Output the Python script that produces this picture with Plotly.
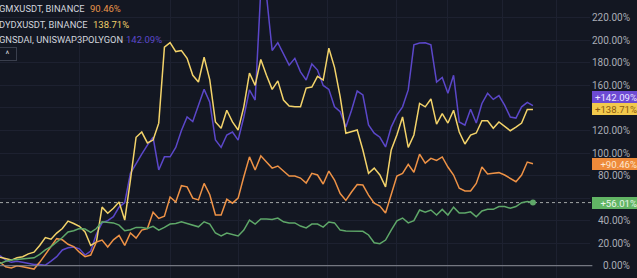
import plotly.graph_objects as go

# ---- data (percent change), one value per bar ----
gns = [9, 5, 3, 4, 3, 2, 1, 1, 0.5, 4, 8, 14, 16, 16.6, 15, 9.5, 13, 28, 38, 40,
       43.5, 52, 56, 82, 91, 99, 107, 114, 85, 96.6, 96.6, 105, 120, 132, 128, 142, 156.5, 145, 111.5, 105,
       116, 118.6, 111.5, 132, 156, 147, 245, 240, 191, 198, 188.6, 178, 184, 172, 164.8, 179, 173.6, 160, 156.5, 141,
       136.6, 123, 138, 155, 151.5, 125, 117.6, 114, 105.4, 123, 133.6, 141, 156, 196, 197.6, 197.8, 196, 163, 167, 153,
       169, 127.6, 124.8, 138.8, 126.6, 144, 153, 147.6, 151, 142.5, 132, 131, 141, 145, 142.09]
dydx = [7.5, 6, 5, 7, 8, 10.5, 12, 18, 25, 23.5, 29, 33, 39.6, 37.5, 35, 30, 18, 21, 52, 46.6,
        51, 56.5, 40.5, 76, 114, 118.6, 109, 111.5, 126.5, 194, 198, 190, 191, 184, 169, 163, 185, 165, 127.6, 122,
        138, 127.6, 120.4, 141, 171, 160, 183, 169, 156.5, 164, 147, 141.7, 141, 141, 157.6, 158.6, 168, 164.8, 193, 176,
        149.8, 117.6, 118.7, 120.4, 102.7, 82, 86.6, 80.5, 70, 102.7, 116, 132, 105, 116, 144, 141, 148, 125.7, 135, 126.6,
        138, 118.7, 108, 116, 117.8, 128.6, 128.6, 122, 127.6, 124, 119.8, 123, 126.6, 138.7, 138.71]
gmx = [3, -1, -2, 0, -1, -2, -3, 3, 10, 18, 24, 23, 19, 17, 12, 8, 9.5, 21, 22.8, 16.6,
       23, 27, 18, 29, 24.5, 31.6, 33, 47.5, 42, 44, 61, 56.5, 71, 70, 60, 58.4, 73, 63, 45, 45,
       59, 55.5, 60, 79, 96.6, 85, 97.5, 92, 86.6, 88.5, 84, 79.6, 79.6, 77.8, 73.4, 82, 80.5, 72.5, 84, 76,
       64, 58, 65.4, 72, 71.6, 62.7, 55.5, 53, 46.8, 64, 79.6, 82, 90, 83, 99, 91, 95.3, 93.5, 96.5, 87.6,
       80.5, 68.7, 66.3, 66.3, 73, 87.6, 81.4, 82, 82.6, 80.5, 77.6, 74.5, 80.5, 92, 90.46]
main = [2, 4, 5, 5.5, 5.5, 6, 7, 10, 14, 17, 21, 25, 30, 31, 33, 32.5, 29.5, 33, 39, 38.5,
        38, 36, 31, 32, 34, 34, 33, 35, 31.6, 34, 37, 37.5, 39, 37.5, 36, 34.5, 39, 37, 29, 26.4,
        29, 28, 26.4, 31.6, 40.5, 37, 41.4, 41.4, 41, 42.3, 39, 38, 38, 35.2, 33.5, 37, 37, 34.3, 38.8, 38,
        31.6, 30.8, 30.8, 30.8, 30.5, 27.3, 20.4, 19.6, 22.8, 31.6, 39.9, 42.3, 38, 40, 49.4, 47.5, 49.4, 45, 50, 45,
        52, 46.7, 46.7, 47.8, 43.5, 48.6, 50, 50, 52.5, 52.5, 51, 52.5, 55.9, 57, 56.01]
bars = list(range(len(main)))

names = ["GMXUSDT, BINANCE", "DYDXUSDT, BINANCE", "GNSDAI, UNISWAP3POLYGON"]
name_vals = ["90.46%", "138.71%", "142.09%"]
ytick_vals = [220, 200, 180, 160, 120, 100, 80, 40, 20, 0]
ytick_text = ["220.00%", "200.00%", "180.00%", "160.00%", "120.00%", "100.00%", "80.00%", "40.00%", "20.00%", "0.00%"]
xgrid_bars = [14.1, 30, 42, 57.8, 70, 79, 88.7, 98.2]
badge_text = ["+142.09%", "+138.71%", "+90.46%", "+56.01%"]

C_PUR = "#5b47c9"
C_YEL = "#f3d36a"
C_ORG = "#ee9246"
C_GRN = "#5fa869"
BG = "#131722"
FONT = "Roboto"
YMIN, YMAX = -10.9, 235.8


def ypaper(v):
    return (v - YMIN) / (YMAX - YMIN)


fig = go.Figure()
for ys, col in [(gns, C_PUR), (dydx, C_YEL), (gmx, C_ORG), (main, C_GRN)]:
    fig.add_trace(go.Scatter(x=bars, y=ys, mode="lines",
                             line=dict(color=col, width=1.5), hoverinfo="skip"))
fig.add_trace(go.Scatter(x=[bars[-1]], y=[main[-1]], mode="markers",
                         marker=dict(color=C_GRN, size=6), hoverinfo="skip"))

shapes = []
annotations = []
# zero line and dotted last-value line
shapes.append(dict(type="line", xref="paper", yref="paper", x0=0, x1=1.004, y0=ypaper(0), y1=ypaper(0),
                   line=dict(color="#8b8e97", width=1)))
shapes.append(dict(type="line", xref="paper", yref="paper", x0=0, x1=1.004, y0=ypaper(main[-1]), y1=ypaper(main[-1]),
                   line=dict(color="rgba(210,215,210,0.75)", width=1, dash="dot"), layer="below"))

# y tick labels on the right
for v, t in zip(ytick_vals, ytick_text):
    annotations.append(dict(xref="paper", yref="paper", x=1.0712, y=ypaper(v), text=t, showarrow=False,
                            xanchor="right", yanchor="middle",
                            font=dict(family=FONT, size=10, color="#a9acb5")))

# value badges (purple pushed up above yellow)
bh = 5.4
badge_centers = [max(gns[-1], dydx[-1] + 2 * bh), dydx[-1], gmx[-1], main[-1]]
badge_cols = [("#6d4ad3", "#ece6ff"), ("#f2c94c", "#8a5a10"), ("#ee8a3a", "#fde6cf"), ("#62b565", "#e9f6e9")]
for c, t, (bg, fg) in zip(badge_centers, badge_text, badge_cols):
    annotations.append(dict(xref="paper", yref="paper", x=1.0034, y=ypaper(c), text=t, showarrow=False,
                            xanchor="left", yanchor="middle", width=44, height=10, align="right",
                            bgcolor=bg, borderpad=1, borderwidth=0,
                            font=dict(family=FONT, size=9.6, color=fg)))

# legend rows, top-left
row_y = [8.5, 24, 39.5]
val_x = [88, 91, 124]
val_cols = ["#e8944a", "#f0cf6a", "#5b47c9"]
for nm, vt, ry, vx, vc in zip(names, name_vals, row_y, val_x, val_cols):
    annotations.append(dict(xref="paper", yref="paper", x=-3 / 590, y=1 - ry / 278, text=nm,
                            showarrow=False, xanchor="left", yanchor="middle",
                            font=dict(family=FONT, size=9.3, color="#d1d4dc")))
    annotations.append(dict(xref="paper", yref="paper", x=vx / 590, y=1 - ry / 278, text=vt,
                            showarrow=False, xanchor="left", yanchor="middle",
                            font=dict(family=FONT, size=9.5, color=vc)))
# collapse button
annotations.append(dict(xref="paper", yref="paper", x=-2 / 590, y=1 - 54 / 278, text="^",
                        showarrow=False, xanchor="left", yanchor="middle", width=15, height=10,
                        bordercolor="#3a3f4d", borderwidth=1, borderpad=1, bgcolor=BG,
                        font=dict(family=FONT, size=9, color="#d1d4dc")))

fig.update_layout(
    width=637, height=278, margin=dict(l=0, r=47, t=0, b=0),
    paper_bgcolor=BG, plot_bgcolor=BG, showlegend=False,
    shapes=shapes, annotations=annotations,
    xaxis=dict(range=[0, 104.06], tickvals=xgrid_bars, showticklabels=False,
               showgrid=True, gridcolor="#1d2130", gridwidth=1, zeroline=False, showline=False,
               fixedrange=True),
    yaxis=dict(range=[YMIN, YMAX], dtick=20, tick0=0, showticklabels=False,
               showgrid=True, gridcolor="#1d2130", gridwidth=1, zeroline=False, showline=False,
               fixedrange=True),
)
fig.write_html("out.html")
